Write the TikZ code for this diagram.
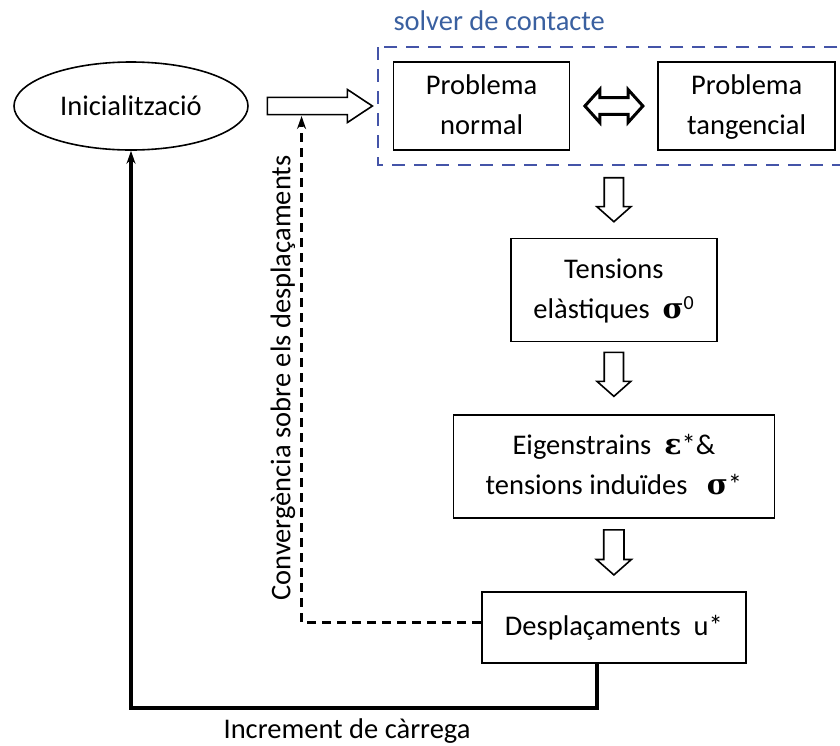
\documentclass[tikz,border=0pt]{standalone}
\usepackage{fontspec}
\setmainfont{Carlito}
\newfontfamily\symbfont{DejaVu Serif}
\usepackage{xcolor}
\definecolor{solverblue}{RGB}{68,84,168}
\definecolor{labelblue}{RGB}{58,96,160}
\usetikzlibrary{positioning,arrows.meta,shapes.geometric,shapes.arrows,calc}
\newcommand{\bsym}[1]{{\symbfont\bfseries #1}}

\begin{document}
\begin{tikzpicture}[
  x=1pt, y=-1pt,
  font=\fontsize{28.5}{40}\selectfont,
  startnode/.style={ellipse, draw, line width=1.6pt, inner sep=0pt,
                    minimum width=234pt, minimum height=88pt},
  stage/.style={draw, line width=1.6pt, align=center, inner sep=0pt},
  solverbox/.style={draw=solverblue, line width=2.4pt, dash pattern=on 13pt off 9pt},
  blockarrow/.style={single arrow, draw, line width=1.6pt, inner xsep=0pt},
  loopback/.style={line width=3.8pt, -{Stealth[length=13pt,width=9pt]}},
  convflow/.style={line width=2.6pt, dash pattern=on 9pt off 6pt,
                   -{Stealth[length=13pt,width=9pt]}},
]
\useasboundingbox (0,0) rectangle (840,745);

% --- start ---
\node[startnode] (init) at (131,106) {Inicialització};

% --- contact solver ---
\node[stage, minimum width=176pt, minimum height=88pt,
      right=144pt of init] (normal) {\strut Problema\\ normal\strut};
\node[stage, minimum width=177pt, minimum height=88pt,
      right=87pt of normal] (tang) {\strut Problema\\ tangencial\strut};
\draw[solverbox] ($(normal.north west)+(-15,-14)$) rectangle ($(tang.south east)+(6,14)$);
\node[labelblue, anchor=base west] (solverlbl) at (390,30) {solver de contacte};

\coordinate (col) at ($(normal.east)!0.5!(tang.west)$);
\coordinate (colbot) at (col |- normal.south);

% --- stages ---
\node[stage, minimum width=206pt, minimum height=103pt,
      below=87pt of colbot] (tens) {\strut Tensions\\ elàstiques~~\bsym{σ}\textsuperscript{0}\strut};
\node[stage, minimum width=321pt, minimum height=103pt,
      below=72pt of tens] (eig) {\strut Eigenstrains~~\bsym{ε}*\&\\
      tensions induïdes~~~\bsym{σ}*\strut};
\node[stage, minimum width=264pt, minimum height=71pt,
      below=72pt of eig] (desp) {\strut Desplaçaments~~u*};

% --- hollow arrows ---
\node[blockarrow, inner ysep=7pt, minimum width=33pt, minimum height=105pt,
      single arrow tip angle=67, anchor=tip] (rarrow) at ($(normal.west)+(-19,0)$) {};
\node[double arrow, draw, line width=3pt, inner xsep=0pt, inner ysep=6pt,
      minimum width=33pt, minimum height=58pt, double arrow tip angle=96] (darrow) at (col) {};
\node[blockarrow, rotate=-90, inner ysep=8.5pt, minimum width=34pt, minimum height=44pt,
      single arrow tip angle=97, anchor=tip] (down1) at ($(tens.north)+(0,-15)$) {};
\node[blockarrow, rotate=-90, inner ysep=8.5pt, minimum width=34pt, minimum height=44pt,
      single arrow tip angle=97, anchor=tip] (down2) at ($(eig.north)+(0,-17)$) {};
\node[blockarrow, rotate=-90, inner ysep=9pt, minimum width=35pt, minimum height=45pt,
      single arrow tip angle=97, anchor=tip] (down3) at ($(desp.north)+(0,-15)$) {};

% --- feedback loops ---
\coordinate (convtip) at ([xshift=35pt,yshift=-10pt]rarrow.tail);
\draw[convflow] ([yshift=5pt]desp.west) -| (convtip);
\node[rotate=90] (convlbl) at (283,378) {Convergència sobre els desplaçaments};

\draw[loopback] ([xshift=-17pt]desp.south) |- ++(0,44) -| (init.south);
\node (inclbl) at (347,731) {Increment de càrrega};
\end{tikzpicture}
\end{document}
